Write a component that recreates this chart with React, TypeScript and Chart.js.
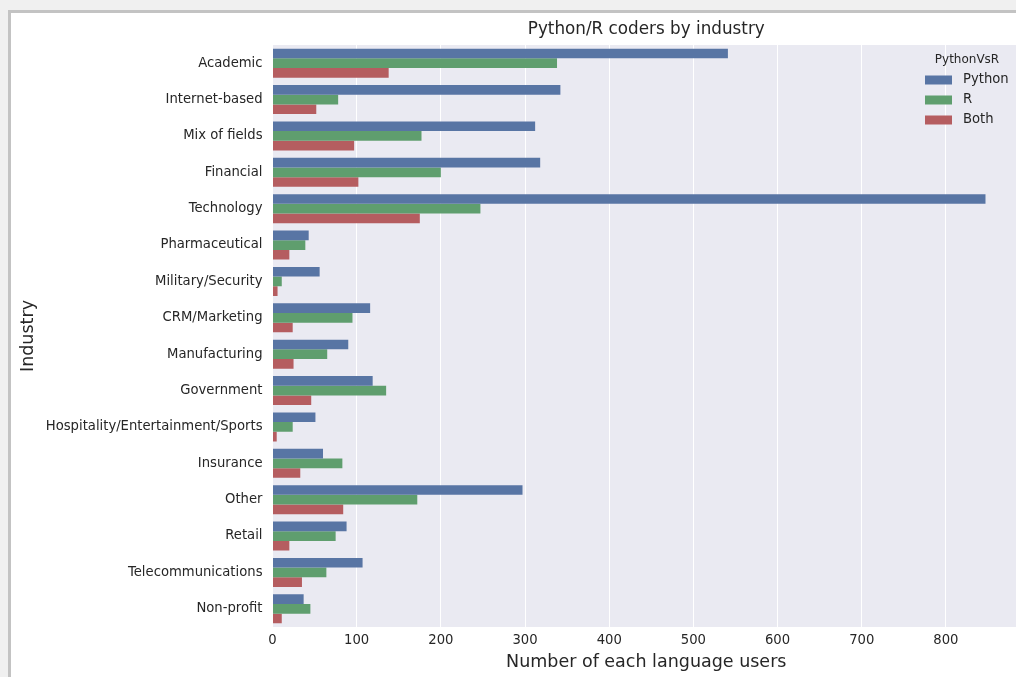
import React, { useEffect, useRef } from "react";
import { Chart, registerables } from "chart.js";

Chart.register(...registerables);

const industries = [
  "Academic",
  "Internet-based",
  "Mix of fields",
  "Financial",
  "Technology",
  "Pharmaceutical",
  "Military/Security",
  "CRM/Marketing",
  "Manufacturing",
  "Government",
  "Hospitality/Entertainment/Sports",
  "Insurance",
  "Other",
  "Retail",
  "Telecommunications",
  "Non-profit",
];

const pythonUsers = [541, 342, 312, 318, 847, 43, 56, 116, 90, 119, 51, 60, 297, 88, 107, 37];
const rUsers = [338, 78, 177, 200, 247, 39, 11, 95, 65, 135, 24, 83, 172, 75, 64, 45];
const bothUsers = [138, 52, 97, 102, 175, 20, 6, 24, 25, 46, 5, 33, 84, 20, 35, 11];

const seriesNames = ["Python", "R", "Both"];
const seriesColors = ["#5875a4", "#5f9e6e", "#b55d60"];
const xTickValues = [0, 100, 200, 300, 400, 500, 600, 700, 800];

const chartTitle = "Python/R coders by industry";
const xAxisTitle = "Number of each language users";
const yAxisTitle = "Industry";
const legendTitle = "PythonVsR";

const FONT = "'DejaVu Sans', sans-serif";
const TEXT = "#262626";

const bgPlugin = {
  id: "bgPlugin",
  beforeDraw(chart: any) {
    const { ctx, chartArea } = chart;
    ctx.save();
    ctx.fillStyle = "#eaeaf2";
    ctx.fillRect(chartArea.left, chartArea.top, chartArea.right - chartArea.left, chartArea.bottom - chartArea.top);
    ctx.restore();
  },
};

const overlayPlugin = {
  id: "overlayPlugin",
  afterDraw(chart: any) {
    const { ctx, chartArea } = chart;
    ctx.save();
    // title
    ctx.fillStyle = TEXT;
    ctx.font = `16.8px ${FONT}`;
    ctx.textAlign = "center";
    ctx.textBaseline = "middle";
    ctx.fillText(chartTitle, (chartArea.left + chartArea.right) / 2, 30);

    // legend
    ctx.font = `12px ${FONT}`;
    ctx.fillText(legendTitle, 967, 60);
    ctx.font = `13.2px ${FONT}`;
    ctx.textAlign = "left";
    seriesNames.forEach((name, i) => {
      const y = 80 + i * 20;
      ctx.fillStyle = seriesColors[i];
      ctx.fillRect(925, y - 4.5, 27, 9);
      ctx.fillStyle = TEXT;
      ctx.fillText(name, 963, y);
    });
    ctx.restore();
  },
};

export default function App() {
  const canvasRef = useRef<HTMLCanvasElement | null>(null);

  useEffect(() => {
    const canvas = canvasRef.current;
    if (!canvas) return;
    const datasets = [pythonUsers, rUsers, bothUsers].map((data, i) => ({
      label: seriesNames[i],
      data,
      backgroundColor: seriesColors[i],
      borderWidth: 0,
      categoryPercentage: 0.8,
      barPercentage: 1.0,
    }));
    const chart = new Chart(canvas, {
      type: "bar",
      data: { labels: industries, datasets },
      plugins: [bgPlugin, overlayPlugin],
      options: {
        indexAxis: "y",
        animation: false,
        responsive: false,
        devicePixelRatio: 1,
        layout: { padding: { top: 45, right: 20, left: 0, bottom: 0 } },
        plugins: {
          legend: { display: false },
          title: { display: false },
          tooltip: { enabled: false },
        },
        scales: {
          x: {
            type: "linear",
            position: "bottom",
            min: 0,
            max: 888,
            afterBuildTicks: (scale: any) => {
              scale.ticks = xTickValues.map((v) => ({ value: v }));
            },
            afterFit: (scale: any) => {
              scale.height = 50;
            },
            grid: { color: "#ffffff", lineWidth: 1, drawTicks: false },
            border: { display: false },
            ticks: {
              color: TEXT,
              font: { family: FONT, size: 13.2 },
              padding: 6,
            },
            title: {
              display: true,
              text: xAxisTitle,
              color: TEXT,
              font: { family: FONT, size: 17.5 },
              padding: { top: 0, bottom: 4 },
            },
          },
          y: {
            type: "category",
            afterFit: (scale: any) => {
              scale.width = 272.5;
            },
            grid: { display: false, drawTicks: false },
            border: { display: false },
            ticks: {
              color: TEXT,
              font: { family: FONT, size: 13.2 },
              padding: 10,
            },
            title: {
              display: true,
              text: yAxisTitle,
              color: TEXT,
              font: { family: FONT, size: 17.5 },
              padding: { top: 18, bottom: 0 },
            },
          },
        },
      } as any,
    });
    return () => chart.destroy();
  }, []);

  return (
    <div
      style={{
        position: "fixed",
        left: 0,
        top: 0,
        width: 1016,
        height: 677,
        background: "#f0f0f0",
        overflow: "hidden",
      }}
    >
      <div
        style={{
          position: "absolute",
          left: 8,
          top: 10,
          width: 1100,
          height: 800,
          border: "3px solid #c3c3c3",
          background: "#ffffff",
        }}
      />
      <canvas
        ref={canvasRef}
        width={1040}
        height={677}
        style={{ position: "absolute", left: 0, top: 0, width: 1040, height: 677 }}
      />
    </div>
  );
}
